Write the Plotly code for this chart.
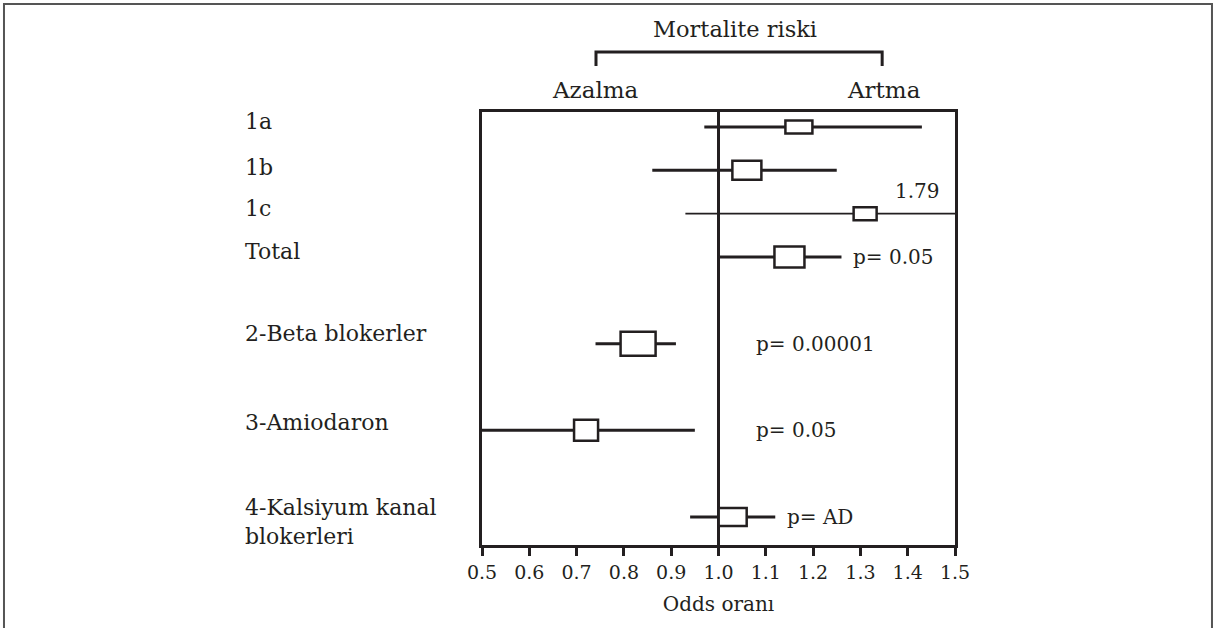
import plotly.graph_objects as go

# ---------------- data ----------------
row_keys = ["1a", "1b", "1c", "Total", "gap1", "beta", "gap2", "amio", "gap3", "kals"]
study_keys = ["1a", "1b", "1c", "Total", "beta", "amio", "kals"]
study_labels = ["1a", "1b", "1c", "Total", "2-Beta blokerler", "3-Amiodaron",
                "4-Kalsiyum kanal<br>blokerleri"]
estimates = [1.17, 1.06, 1.31, 1.15, 0.83, 0.72, 1.03]
ci_lower = [0.97, 0.86, 0.93, 1.00, 0.74, 0.50, 0.94]
ci_upper = [1.43, 1.25, 1.79, 1.26, 0.91, 0.95, 1.12]

p_rows = ["Total", "beta", "amio", "kals"]
p_texts = ["p= 0.05", "p= 0.00001", "p= 0.05", "p= AD"]
p_x = [1.28, 1.075, 1.075, 1.14]

x_ticks = [0.5, 0.6, 0.7, 0.8, 0.9, 1.0, 1.1, 1.2, 1.3, 1.4, 1.5]
x_ticktext = ["0.5", "0.6", "0.7", "0.8", "0.9", "1.0", "1.1", "1.2", "1.3", "1.4", "1.5"]

# ---------------- style ----------------
INK = "#231f20"
FONT = "DejaVu Serif"
box_w_px = [27, 29, 23, 30, 35, 24, 28]
box_h_px = [13, 19, 13, 21, 24, 21, 18]
ci_width = [3, 3, 1.6, 3, 3, 3, 3]
label_yshift = [5, 3, 5, 6, 10, 8, -5]

fig = go.Figure()

for k, lo, hi, w in zip(study_keys, ci_lower, ci_upper, ci_width):
    fig.add_trace(go.Scatter(x=[lo, hi], y=[k, k], mode="lines",
                             line=dict(color=INK, width=w), showlegend=False,
                             hoverinfo="skip"))

shapes = []
# reference line at 1.0
shapes.append(dict(type="line", xref="x", yref="paper", x0=1.0, x1=1.0, y0=0, y1=1,
                   line=dict(color=INK, width=3), layer="below"))
# boxes
for k, est, bw, bh in zip(study_keys, estimates, box_w_px, box_h_px):
    idx = row_keys.index(k)
    shapes.append(dict(type="rect", xref="x", yref="y",
                       xsizemode="pixel", ysizemode="pixel",
                       xanchor=est, yanchor=idx,
                       x0=-bw / 2, x1=bw / 2, y0=-bh / 2, y1=bh / 2,
                       fillcolor="white", line=dict(color=INK, width=2.5),
                       layer="above"))
# header bracket
shapes.append(dict(type="path", xref="paper", yref="paper",
                   path="M 0.241 1.106 L 0.241 1.1386 L 0.846 1.1386 L 0.846 1.106",
                   line=dict(color=INK, width=3)))
# outer frame
shapes.append(dict(type="rect", xref="paper", yref="paper",
                   x0=-1.0106, x1=1.5433, y0=-0.4, y1=1.2494,
                   line=dict(color="#555555", width=2)))

annotations = []
for k, lab, ys in zip(study_keys, study_labels, label_yshift):
    annotations.append(dict(x=-0.505, xref="paper", y=k, yref="y", text=lab,
                            xanchor="left", yanchor="middle", align="left",
                            showarrow=False, yshift=ys,
                            font=dict(family=FONT, size=22, color=INK)))
for k, t, px in zip(p_rows, p_texts, p_x):
    annotations.append(dict(x=px, xref="x", y=k, yref="y", text=t,
                            xanchor="left", yanchor="middle", showarrow=False,
                            font=dict(family=FONT, size=20, color=INK)))
annotations.append(dict(x=1.42, xref="x", y="1c", yref="y", text="1.79",
                        xanchor="center", yanchor="middle", showarrow=False, yshift=23,
                        font=dict(family=FONT, size=20, color=INK)))
annotations.append(dict(x=0.535, xref="paper", y=1.1917, yref="paper",
                        text="Mortalite riski", showarrow=False,
                        xanchor="center", yanchor="middle",
                        font=dict(family=FONT, size=22.5, color=INK)))
annotations.append(dict(x=0.241, xref="paper", y=1.0508, yref="paper",
                        text="Azalma", showarrow=False,
                        xanchor="center", yanchor="middle",
                        font=dict(family=FONT, size=23, color=INK)))
annotations.append(dict(x=0.850, xref="paper", y=1.0508, yref="paper",
                        text="Artma", showarrow=False,
                        xanchor="center", yanchor="middle",
                        font=dict(family=FONT, size=23, color=INK)))

fig.update_layout(
    width=1216, height=628,
    margin=dict(l=482, r=261, t=112, b=83),
    paper_bgcolor="white", plot_bgcolor="white",
    shapes=shapes, annotations=annotations,
    showlegend=False,
    xaxis=dict(range=[0.5, 1.5], tickvals=x_ticks, ticktext=x_ticktext,
               ticks="outside", ticklen=8, tickwidth=2.5, tickcolor=INK,
               showline=True, linecolor=INK, linewidth=3, mirror=True,
               showgrid=False, zeroline=False,
               tickfont=dict(family=FONT, size=19, color=INK),
               title=dict(text="Odds oranı", standoff=16,
                          font=dict(family=FONT, size=20, color=INK))),
    yaxis=dict(type="category", categoryorder="array", categoryarray=row_keys,
               range=[9.646, -0.346], showticklabels=False, ticks="",
               showline=True, linecolor=INK, linewidth=3, mirror=True,
               showgrid=False, zeroline=False),
)

fig.write_html("out.html",
               config={"displayModeBar": False},
               post_script="document.body.style.margin='0';document.body.style.overflow='hidden';")
